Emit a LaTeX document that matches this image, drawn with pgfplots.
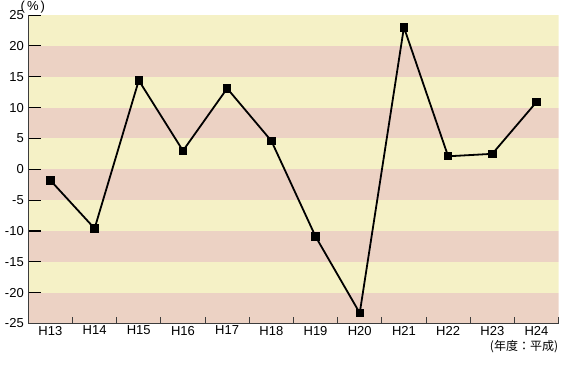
\documentclass[border=0pt]{standalone}
\usepackage{fontspec}
\setmainfont{Liberation Sans}
\newfontfamily\cjk{Noto Sans CJK JP}
\usepackage{pgfplots}
\pgfplotsset{compat=1.18}
\definecolor{bandY}{RGB}{245,241,198}
\definecolor{bandP}{RGB}{236,210,196}
\definecolor{axisgray}{RGB}{60,60,60}
\begin{document}
\begin{tikzpicture}
\useasboundingbox (-28.3pt,-40.5pt) rectangle (532.7pt,323.5pt);
\begin{axis}[
  scale only axis,
  width=530.3pt, height=308.5pt,
  xmin=-0.5, xmax=11.5, ymin=-25, ymax=25,
  axis x line=bottom, axis y line=left,
  axis line style={-, draw=axisgray, line width=1.1pt},
  xtick={-0.5,0.5,...,11.5},
  x tick label as interval,
  xticklabels={H13,H14,H15,H16,H17,H18,H19,H20,H21,H22,H23,H24},
  ytick={-25,-20,...,25},
  tick align=inside,
  major tick length=7pt,
  x tick style={draw=axisgray, line width=1pt},
  y tick style={draw=none},
  /pgf/number format/assume math mode=true,
  tick label style={font=\fontsize{13}{15}\selectfont, text=black},
  xticklabel style={yshift=1pt},
  yticklabel style={xshift=-1pt},
  axis on top,
]
\fill[bandP] (axis cs:-0.5,-25) rectangle (axis cs:11.5,-20);
\fill[bandY] (axis cs:-0.5,-20) rectangle (axis cs:11.5,-15);
\fill[bandP] (axis cs:-0.5,-15) rectangle (axis cs:11.5,-10);
\fill[bandY] (axis cs:-0.5,-10) rectangle (axis cs:11.5,-5);
\fill[bandP] (axis cs:-0.5,-5) rectangle (axis cs:11.5,0);
\fill[bandY] (axis cs:-0.5,0) rectangle (axis cs:11.5,5);
\fill[bandP] (axis cs:-0.5,5) rectangle (axis cs:11.5,10);
\fill[bandY] (axis cs:-0.5,10) rectangle (axis cs:11.5,15);
\fill[bandP] (axis cs:-0.5,15) rectangle (axis cs:11.5,20);
\fill[bandY] (axis cs:-0.5,20) rectangle (axis cs:11.5,25);
\draw[black, line width=1.2pt] (axis cs:-0.5,25) -- (axis cs:-0.206,25);
\draw[black, line width=1.2pt] (axis cs:-0.5,20) -- (axis cs:-0.206,20);
\draw[black, line width=1.2pt] (axis cs:-0.5,15) -- (axis cs:-0.206,15);
\draw[black, line width=1.2pt] (axis cs:-0.5,10) -- (axis cs:-0.206,10);
\draw[black, line width=1.2pt] (axis cs:-0.5,5) -- (axis cs:-0.206,5);
\draw[black, line width=1.2pt] (axis cs:-0.5,0) -- (axis cs:-0.206,0);
\draw[black, line width=1.2pt] (axis cs:-0.5,-5) -- (axis cs:-0.206,-5);
\draw[black, line width=1.2pt] (axis cs:-0.5,-10) -- (axis cs:-0.206,-10);
\draw[black, line width=1.2pt] (axis cs:-0.5,-15) -- (axis cs:-0.206,-15);
\draw[black, line width=1.2pt] (axis cs:-0.5,-20) -- (axis cs:-0.206,-20);
\addplot[black, line width=1.8pt, mark=square*, mark size=3.3pt, mark options={solid}]
coordinates {
(0,-1.8) (1,-9.6) (2,14.4) (3,3.0) (4,13.1) (5,4.6)
(6,-10.9) (7,-23.3) (8,23.0) (9,2.1) (10,2.5) (11,10.9)
};
\end{axis}
\node[anchor=center, font=\fontsize{13}{15}\selectfont] at (4.5pt,316.5pt) {(\,\%\,)};
\node[anchor=east, inner sep=0pt, font=\cjk\fontsize{12}{14}\selectfont] at (530pt,-23.5pt) {(年度：平成)};
\end{tikzpicture}
\end{document}
